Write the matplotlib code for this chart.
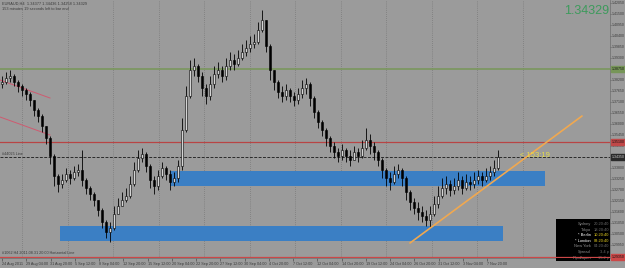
import numpy as np
import matplotlib
matplotlib.use("Agg")
import matplotlib.pyplot as plt
from matplotlib.patches import Rectangle

# ---- data (H4, thinned out) ----
first_open = 1.3800
closes = [1.381, 1.383, 1.384, 1.381, 1.379, 1.377, 1.375, 1.372, 1.367, 1.364,
          1.359, 1.353, 1.344, 1.334, 1.330, 1.332, 1.335, 1.333, 1.336, 1.337,
          1.332, 1.328, 1.325, 1.322, 1.317, 1.311, 1.306, 1.308, 1.315, 1.319,
          1.322, 1.324, 1.330, 1.337, 1.343, 1.345, 1.339, 1.332, 1.329, 1.334,
          1.338, 1.335, 1.331, 1.333, 1.339, 1.357, 1.374, 1.387, 1.389, 1.384,
          1.378, 1.374, 1.380, 1.385, 1.387, 1.384, 1.389, 1.392, 1.390, 1.393,
          1.396, 1.398, 1.400, 1.401, 1.407, 1.412, 1.399, 1.387, 1.381, 1.376,
          1.374, 1.377, 1.374, 1.372, 1.375, 1.378, 1.380, 1.373, 1.366, 1.361,
          1.357, 1.353, 1.349, 1.346, 1.344, 1.347, 1.344, 1.342, 1.346, 1.344,
          1.348, 1.352, 1.349, 1.346, 1.342, 1.337, 1.333, 1.331, 1.335, 1.337,
          1.333, 1.326, 1.321, 1.318, 1.316, 1.314, 1.312, 1.315, 1.320, 1.324,
          1.328, 1.330, 1.327, 1.329, 1.332, 1.328, 1.331, 1.330, 1.332, 1.334,
          1.332, 1.334, 1.336, 1.338, 1.34329]
highs = [1.384, 1.386, 1.387, 1.385, 1.382, 1.380, 1.378, 1.376, 1.372, 1.368,
         1.365, 1.359, 1.354, 1.345, 1.335, 1.335, 1.338, 1.337, 1.339, 1.340,
         1.347, 1.333, 1.329, 1.326, 1.322, 1.318, 1.312, 1.311, 1.319, 1.323,
         1.326, 1.328, 1.334, 1.341, 1.347, 1.348, 1.346, 1.340, 1.334, 1.337,
         1.341, 1.339, 1.337, 1.336, 1.342, 1.363, 1.379, 1.392, 1.393, 1.390,
         1.386, 1.380, 1.384, 1.389, 1.391, 1.389, 1.393, 1.396, 1.395, 1.397,
         1.400, 1.402, 1.404, 1.405, 1.411, 1.417, 1.412, 1.400, 1.387, 1.382,
         1.379, 1.380, 1.378, 1.376, 1.378, 1.382, 1.383, 1.381, 1.374, 1.367,
         1.362, 1.358, 1.354, 1.351, 1.348, 1.350, 1.348, 1.347, 1.349, 1.348,
         1.352, 1.358, 1.355, 1.351, 1.347, 1.343, 1.338, 1.336, 1.339, 1.340,
         1.338, 1.334, 1.327, 1.323, 1.321, 1.319, 1.317, 1.319, 1.324, 1.329,
         1.333, 1.334, 1.332, 1.333, 1.336, 1.334, 1.335, 1.334, 1.336, 1.337,
         1.336, 1.338, 1.339, 1.342, 1.347]
lows = [1.378, 1.380, 1.381, 1.379, 1.376, 1.374, 1.372, 1.369, 1.364, 1.361,
        1.356, 1.350, 1.340, 1.329, 1.326, 1.328, 1.331, 1.330, 1.332, 1.334,
        1.329, 1.325, 1.322, 1.319, 1.314, 1.308, 1.303, 1.301, 1.307, 1.315,
        1.319, 1.321, 1.323, 1.329, 1.336, 1.341, 1.336, 1.328, 1.325, 1.327,
        1.333, 1.332, 1.327, 1.329, 1.331, 1.337, 1.356, 1.373, 1.384, 1.381,
        1.374, 1.370, 1.372, 1.378, 1.383, 1.381, 1.382, 1.387, 1.387, 1.389,
        1.392, 1.394, 1.396, 1.398, 1.400, 1.406, 1.396, 1.382, 1.377, 1.373,
        1.371, 1.372, 1.371, 1.369, 1.370, 1.373, 1.375, 1.369, 1.363, 1.358,
        1.354, 1.349, 1.346, 1.343, 1.341, 1.342, 1.341, 1.339, 1.342, 1.341,
        1.343, 1.347, 1.345, 1.342, 1.339, 1.333, 1.329, 1.327, 1.330, 1.333,
        1.329, 1.322, 1.317, 1.315, 1.312, 1.311, 1.309, 1.308, 1.314, 1.318,
        1.323, 1.325, 1.324, 1.325, 1.327, 1.325, 1.327, 1.327, 1.328, 1.330,
        1.329, 1.331, 1.332, 1.334, 1.337]
opens = [first_open] + closes[:-1]

time_labels = ["24 Aug 2011", "29 Aug 04:00", "31 Aug 20:00", "5 Sep 12:00", "8 Sep 04:00",
               "12 Sep 20:00", "15 Sep 12:00", "20 Sep 04:00", "22 Sep 20:00", "27 Sep 12:00",
               "30 Sep 04:00", "4 Oct 20:00", "7 Oct 12:00", "12 Oct 04:00", "14 Oct 20:00",
               "19 Oct 12:00", "24 Oct 04:00", "26 Oct 20:00", "31 Oct 12:00", "3 Nov 04:00",
               "7 Nov 20:00"]

bid = 1.34329
level_green = 1.3875
level_red = 1.3510
level_line = 1.3435
level_bottom = 1.2935
zone_top = [42, 135.75, 1.3290, 1.3365]     # bar from, bar to, price low, price high
zone_bottom = [14.5, 125.25, 1.3015, 1.3090]
trend_bars = [102, 145]
trend_prices = [1.3005, 1.3640]
chan_bars = [-0.5, 12]
chan_a = [1.3820, 1.3730]
chan_b = [1.3635, 1.3545]

sessions = ["Sydney", "Tokyo", "* Berlin", "* London", "New York", "Spread", "Pips2open"]
session_vals = ["20:20:40", "18:20:40", "10:20:40", "09:20:40", "04:20:40", "3.4 p", "15.2 p"]

# ---- style ----
BG = "#9b9b9b"
FG = "#3a3a3a"
W, H = 625, 268
plt.rcParams['font.family'] = ['Liberation Sans', 'DejaVu Sans']

fig = plt.figure(figsize=(W / 100, H / 100), dpi=100)
fig.patch.set_facecolor(BG)
ax = fig.add_axes([0, 10 / H, 610 / W, 258 / H])
ax.set_facecolor(BG)
ax.set_xlim(-0.5, 152)
ax.set_ylim(1.293, 1.422)

def fx(px):
    return px / W

def fy(py):
    return 1 - py / H

# weekly grid (Mondays)
for gx in 5 + 11.375 * np.arange(12):
    ax.axvline(gx, color="#6c6c6c", lw=0.5, ls=(0, (1, 2)), zorder=0)

# zones
for z in (zone_top, zone_bottom):
    ax.add_patch(Rectangle((z[0], z[2]), z[1] - z[0], z[3] - z[2],
                           facecolor="#3b7fc4", edgecolor="none", zorder=1))

# horizontal levels
ax.axhline(level_green, color="#779658", lw=1.1, zorder=2)
ax.axhline(level_red, color="#b84444", lw=0.9, zorder=2)
ax.axhline(level_line, color="#2a2a2a", lw=0.7, ls=(0, (3, 1.5)), zorder=2)
ax.text(0.004, level_line + 0.0007, "#44025 Line", transform=ax.get_yaxis_transform(),
        fontsize=2.7, color=FG, va="bottom")

# channel lines top-left
ax.plot(chan_bars, chan_a, color="#cf5a70", lw=0.7, zorder=2)
ax.plot(chan_bars, chan_b, color="#cf5a70", lw=0.7, zorder=2)

# candles
x = np.arange(len(closes))
o = np.array(opens)
c = np.array(closes)
ax.vlines(x, lows, highs, color="black", lw=0.6, zorder=3)
up = c >= o
ax.bar(x[up], (c - o)[up], bottom=o[up], width=0.7, color="#d4d4d4",
       edgecolor="black", linewidth=0.4, zorder=4)
ax.bar(x[~up], (c - o)[~up], bottom=o[~up], width=0.7, color="black",
       edgecolor="black", linewidth=0.4, zorder=4)

# trend line
ax.plot(trend_bars, trend_prices, color="#f0a850", lw=1.2, zorder=5, solid_capstyle="round")

# countdown label
ax.text(129.5, bid + 0.0009, "< 153:19", fontsize=5.5, color="#e6dc4a",
        va="center", ha="left", zorder=6)

# info panel (bottom right)
ax.add_patch(Rectangle((fx(556), fy(261)), fx(54), 42 / H, transform=fig.transFigure,
                       facecolor="black", edgecolor="none", zorder=6, clip_on=False))
for r, (name, val) in enumerate(zip(sessions, session_vals)):
    py = 224 + 5.6 * r
    hot = name.startswith("*")
    ax.text(fx(591), fy(py), name, transform=fig.transFigure, ha="right", va="center",
            fontsize=2.9, color="white" if hot else "#8c8c8c", zorder=7, clip_on=False)
    ax.text(fx(609), fy(py), val, transform=fig.transFigure, ha="right", va="center",
            fontsize=2.9, color="#e8d020" if hot else "#6a6a6a", zorder=7, clip_on=False)

ax.axhline(level_bottom, color="#cc4848", lw=0.9, zorder=8)
ax.text(0.004, level_bottom + 0.0008, "#1062 H4 2011.08.31 20:00 Horizontal Line",
        transform=ax.get_yaxis_transform(), fontsize=2.7, color=FG, va="bottom")

# axes
for s in ("top", "left"):
    ax.spines[s].set_visible(False)
for s in ("bottom", "right"):
    ax.spines[s].set_color("#6e6e6e")
    ax.spines[s].set_linewidth(0.5)

ax.set_xticks(6.0625 * np.arange(len(time_labels)))
ax.set_xticklabels(time_labels, ha="left")
ax.tick_params(axis="x", length=2, width=0.4, pad=1, labelsize=2.7, colors=FG)

yt = 1.4205 - 0.0055 * np.arange(24)
ax.yaxis.tick_right()
ax.set_yticks(yt)
ax.set_yticklabels([f"{v:.5f}" for v in yt])
ax.tick_params(axis="y", length=1, width=0.4, pad=0.5, labelsize=2.5, colors=FG)

# price tags on the scale
ytr = ax.get_yaxis_transform()
for lvl, col, tc in ((level_green, "#779658", "#101010"), (level_red, "#c04848", "#101010"),
                     (level_line, "#2a2a2a", "#d0d0d0"), (level_bottom, "#cc4848", "#101010")):
    ax.text(1.003, lvl, f"{lvl:.5f}", transform=ytr, fontsize=2.5, color=tc, va="center",
            ha="left", clip_on=False, zorder=9,
            bbox=dict(boxstyle="square,pad=0.2", facecolor=col, edgecolor=col))

# header texts
fig.text(fx(2), fy(4), "EURAUD,H4  1.34377 1.34436 1.34258 1.34329",
         fontsize=2.8, color=FG, va="center")
fig.text(fx(2), fy(9.5), "153 minutes 19 seconds left to bar end",
         fontsize=2.8, color=FG, va="center")
fig.text(fx(609), fy(11), f"{bid:.5f}", fontsize=9, color="#3d9a5c", ha="right", va="center")

fig.savefig("out.png", dpi=100, facecolor=BG)
